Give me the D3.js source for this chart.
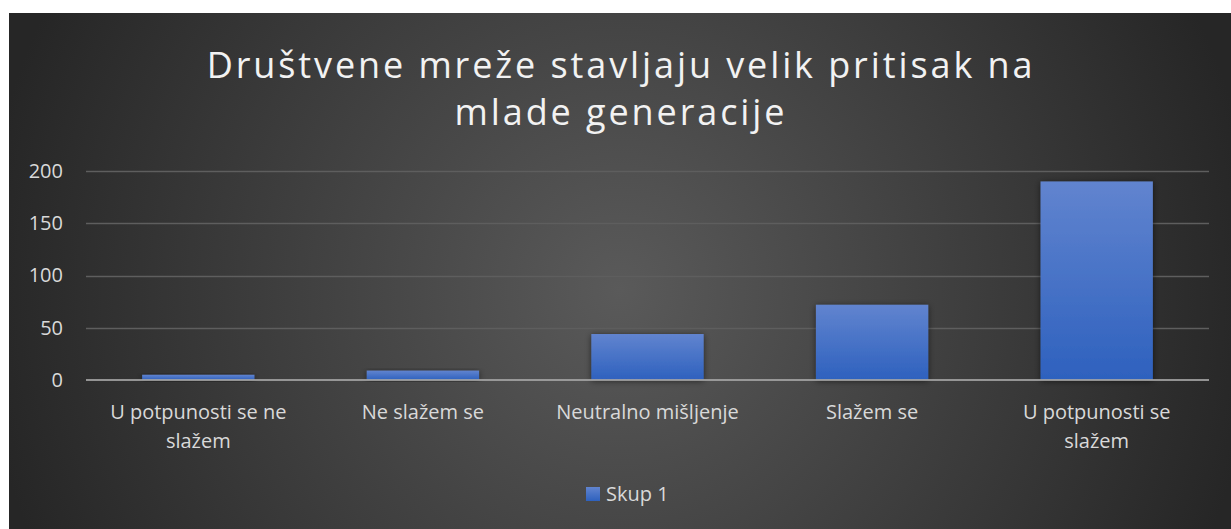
<!DOCTYPE html>
<html>
<head>
<meta charset="utf-8">
<script src="https://cdn.jsdelivr.net/npm/d3@7"></script>
<style>
  html, body { margin: 0; padding: 0; background: #fff; }
  svg { display: block; }
</style>
</head>
<body>
<svg id="chart"></svg>
<script>
// data
const categories = ["U potpunosti se ne slažem", "Ne slažem se", "Neutralno mišljenje", "Slažem se", "U potpunosti se slažem"];
const values = [5, 9, 44, 72, 190];
const yTicks = [0, 50, 100, 150, 200];
const seriesName = "Skup 1";
const titleLines = ["Društvene mreže stavljaju velik pritisak na", "mlade generacije"];

const w = 1231, h = 529;
const margin = { top: 171, right: 22, bottom: 149, left: 86 };
const font = "'Open Sans', sans-serif";

const svg = d3.select("#chart").attr("width", w).attr("height", h);
const defs = svg.append("defs");

const bg = defs.append("radialGradient").attr("id", "bg")
    .attr("gradientUnits", "userSpaceOnUse")
    .attr("cx", 620).attr("cy", 290).attr("r", 640);
bg.append("stop").attr("offset", "0%").attr("stop-color", "#5a5a5a");
bg.append("stop").attr("offset", "100%").attr("stop-color", "#262626");

const barGrad = defs.append("linearGradient").attr("id", "barGrad")
    .attr("x1", 0).attr("y1", 0).attr("x2", 0).attr("y2", 1);
barGrad.append("stop").attr("offset", "0%").attr("stop-color", "#6184cf");
barGrad.append("stop").attr("offset", "100%").attr("stop-color", "#2e61be");

const shadow = defs.append("filter").attr("id", "shadow")
    .attr("x", "-20%").attr("y", "-20%").attr("width", "140%").attr("height", "140%");
shadow.append("feDropShadow").attr("dx", 0).attr("dy", 1).attr("stdDeviation", 3)
    .attr("flood-color", "#000").attr("flood-opacity", 0.55);

// background panel (white strip on top/left as in the source)
svg.append("rect").attr("x", 9).attr("y", 13).attr("width", w - 9).attr("height", h - 13)
    .attr("fill", "url(#bg)");

// title
svg.append("text")
    .attr("text-anchor", "middle")
    .attr("fill", "#f2f2f2")
    .style("font-family", font)
    .style("font-size", "36px")
    .style("letter-spacing", "2.9px")
    .selectAll("tspan")
    .data(titleLines)
    .join("tspan")
    .attr("x", 621)
    .attr("y", (d, i) => 78 + i * 47)
    .text(d => d);

const xScale = d3.scaleBand()
    .domain(categories)
    .range([margin.left, w - margin.right])
    .paddingInner(0.5)
    .paddingOuter(0.25);

const yScale = d3.scaleLinear()
    .domain([0, 200])
    .range([h - margin.bottom, margin.top]);

// gridlines
svg.append("g")
    .selectAll("line")
    .data(yTicks.filter(d => d > 0))
    .join("line")
    .attr("x1", margin.left).attr("x2", w - margin.right)
    .attr("y1", d => Math.round(yScale(d)) + 0.5)
    .attr("y2", d => Math.round(yScale(d)) + 0.5)
    .attr("stroke", "#5e5e5e")
    .attr("stroke-width", 1.3);

// y axis labels
const yAxis = g => g
    .attr("transform", `translate(${margin.left - 23},0)`)
    .call(d3.axisLeft(yScale).tickValues(yTicks).tickSize(0).tickPadding(0))
    .call(g => g.select(".domain").remove())
    .call(g => g.selectAll("text")
        .attr("fill", "#d9d9d9")
        .style("font-family", font)
        .style("font-size", "20px"));
svg.append("g").call(yAxis);

// bars
svg.append("g")
    .selectAll("rect")
    .data(values)
    .join("rect")
    .attr("x", (d, i) => xScale(categories[i]))
    .attr("y", d => yScale(d))
    .attr("width", xScale.bandwidth())
    .attr("height", d => yScale(0) - yScale(d))
    .attr("fill", "url(#barGrad)")
    .attr("filter", "url(#shadow)");

// baseline
svg.append("line")
    .attr("x1", margin.left).attr("x2", w - margin.right)
    .attr("y1", yScale(0)).attr("y2", yScale(0))
    .attr("stroke", "#a6a6a6").attr("stroke-opacity", 0.85)
    .attr("stroke-width", 2.2);

// x axis labels (wrapped)
function wrap(text, width) {
    text.each(function() {
        const t = d3.select(this);
        const words = t.text().split(/\s+/);
        const x = t.attr("x");
        t.text(null);
        let line = [];
        let tspan = t.append("tspan").attr("x", x).attr("dy", 0);
        words.forEach(word => {
            line.push(word);
            tspan.text(line.join(" "));
            if (tspan.node().getComputedTextLength() > width && line.length > 1) {
                line.pop();
                tspan.text(line.join(" "));
                line = [word];
                tspan = t.append("tspan").attr("x", x).attr("dy", "29px").text(word);
            }
        });
    });
}

svg.append("g")
    .selectAll("text")
    .data(categories)
    .join("text")
    .attr("x", d => xScale(d) + xScale.bandwidth() / 2)
    .attr("y", 419)
    .attr("text-anchor", "middle")
    .attr("fill", "#d9d9d9")
    .style("font-family", font)
    .style("font-size", "20px")
    .text(d => d)
    .call(wrap, 205);

// legend
const legend = svg.append("g").attr("transform", "translate(586,487)");
legend.append("rect").attr("width", 14).attr("height", 14).attr("fill", "url(#barGrad)");
legend.append("text")
    .attr("x", 20).attr("y", 14)
    .attr("fill", "#d9d9d9")
    .style("font-family", font)
    .style("font-size", "20px")
    .text(seriesName);
</script>
</body>
</html>
